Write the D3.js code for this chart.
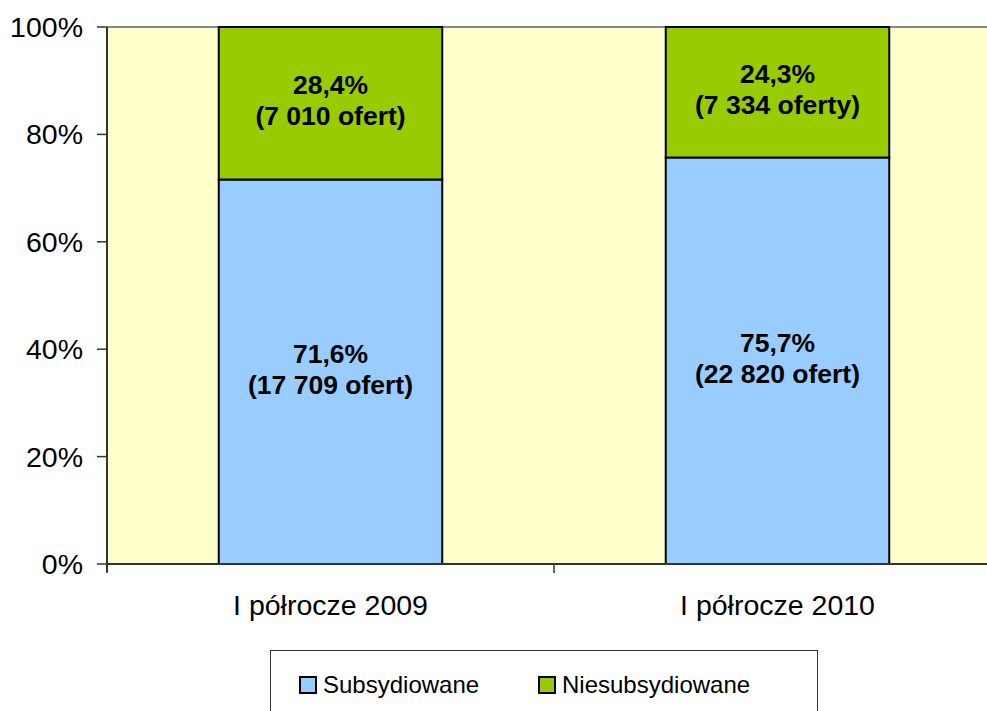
<!DOCTYPE html>
<html>
<head>
<meta charset="utf-8">
<script src="https://cdn.jsdelivr.net/npm/d3@7"></script>
<style>
  body { margin: 0; background: #fff; }
  svg { display: block; font-family: 'Liberation Sans', Arial, sans-serif; }
</style>
</head>
<body>
<script>
// data
var categories = ['I półrocze 2009', 'I półrocze 2010'];
var seriesNames = ['Subsydiowane', 'Niesubsydiowane'];
var subsPct = [71.6, 75.7];
var niesubsPct = [28.4, 24.3];
var subsLabels = ['(17 709 ofert)', '(22 820 ofert)'];
var niesubsLabels = ['(7 010 ofert)', '(7 334 oferty)'];
var yTicks = [0, 20, 40, 60, 80, 100];
var colors = ['#99CCFF', '#99CC00'];

var W = 987, H = 711;
var PL = 107, PT = 27, PB = 564, PR = 1001;

var svg = d3.select('body').append('svg')
  .attr('width', W).attr('height', H);

var x = d3.scaleBand().domain(categories).range([PL, PR]).paddingInner(0.5).paddingOuter(0.25);
var y = d3.scaleLinear().domain([0, 100]).range([PB, PT]);

// plot area
svg.append('rect')
  .attr('x', PL).attr('y', PT)
  .attr('width', PR - PL).attr('height', PB - PT)
  .attr('fill', '#FFFFCC');
svg.append('line')
  .attr('x1', PL).attr('x2', PR).attr('y1', PT).attr('y2', PT)
  .attr('stroke', '#888').attr('stroke-width', 2);

// stacked data
var rows = categories.map(function(c, i) {
  return [
    { cat: c, y0: 0, y1: subsPct[i], color: colors[0], pct: subsPct[i], lab: subsLabels[i] },
    { cat: c, y0: subsPct[i], y1: 100, color: colors[1], pct: niesubsPct[i], lab: niesubsLabels[i] }
  ];
});
var segs = [].concat.apply([], rows);

svg.selectAll('rect.seg').data(segs).enter().append('rect')
  .attr('class', 'seg')
  .attr('x', function(d) { return x(d.cat); })
  .attr('y', function(d) { return y(d.y1); })
  .attr('width', x.bandwidth())
  .attr('height', function(d) { return y(d.y0) - y(d.y1); })
  .attr('fill', function(d) { return d.color; })
  .attr('stroke', '#000').attr('stroke-width', 2);

function fmt(v) { return v.toFixed(1).replace('.', ',') + '%'; }

var labs = svg.selectAll('g.lab').data(segs).enter().append('g')
  .attr('class', 'lab')
  .attr('transform', function(d) {
    return 'translate(' + (x(d.cat) + x.bandwidth() / 2) + ',' + ((y(d.y0) + y(d.y1)) / 2) + ')';
  })
  .style('font-size', '26.5px').style('font-weight', 'bold')
  .attr('text-anchor', 'middle');
labs.append('text').attr('y', -9).text(function(d) { return fmt(d.pct); });
labs.append('text').attr('y', 22).text(function(d) { return d.lab; });

// y axis
svg.append('line')
  .attr('x1', PL).attr('x2', PL).attr('y1', PT).attr('y2', PB + 8)
  .attr('stroke', '#333').attr('stroke-width', 2);
var yt = svg.selectAll('g.yt').data(yTicks).enter().append('g')
  .attr('class', 'yt')
  .attr('transform', function(d) { return 'translate(0,' + y(d) + ')'; });
yt.append('line').attr('x1', PL - 10).attr('x2', PL).attr('stroke', '#333').attr('stroke-width', 1.5);
yt.append('text')
  .attr('x', PL - 24).attr('y', 10)
  .attr('text-anchor', 'end')
  .style('font-size', '28.5px')
  .text(function(d) { return d + '%'; });

// x axis
svg.append('line')
  .attr('x1', PL).attr('x2', PR).attr('y1', PB).attr('y2', PB)
  .attr('stroke', '#333').attr('stroke-width', 2);
var xTickPos = [PL, (x(categories[0]) + x.bandwidth() + x(categories[1])) / 2, PR];
svg.selectAll('line.xt').data(xTickPos).enter().append('line')
  .attr('class', 'xt')
  .attr('x1', function(d) { return d; }).attr('x2', function(d) { return d; })
  .attr('y1', PB).attr('y2', PB + 9)
  .attr('stroke', '#333').attr('stroke-width', 1.5);
svg.selectAll('text.cat').data(categories).enter().append('text')
  .attr('class', 'cat')
  .attr('x', function(d) { return x(d) + x.bandwidth() / 2; })
  .attr('y', 615)
  .attr('text-anchor', 'middle')
  .style('font-size', '28.5px')
  .text(function(d) { return d; });

// legend
svg.append('rect')
  .attr('x', 270.5).attr('y', 650.5).attr('width', 547).attr('height', 80)
  .attr('fill', '#fff').attr('stroke', '#333').attr('stroke-width', 1);
var legX = [300, 539];
var lg = svg.selectAll('g.leg').data(seriesNames).enter().append('g')
  .attr('class', 'leg')
  .attr('transform', function(d, i) { return 'translate(' + legX[i] + ',677)'; });
lg.append('rect').attr('width', 16).attr('height', 16)
  .attr('fill', function(d, i) { return colors[i]; })
  .attr('stroke', '#000').attr('stroke-width', 2);
lg.append('text').attr('x', 23).attr('y', 16)
  .style('font-size', '24px')
  .text(function(d) { return d; });
</script>
</body>
</html>
